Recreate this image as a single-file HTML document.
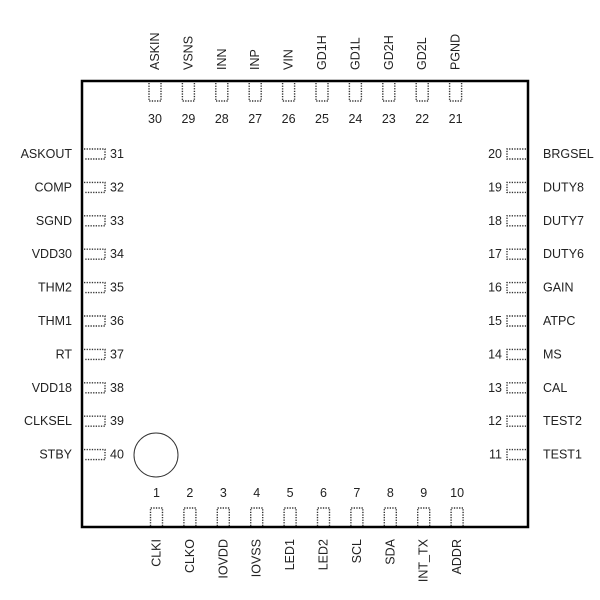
<!DOCTYPE html>
<html><head><meta charset="utf-8"><style>body{margin:0;background:#fff}svg{display:block}text{font-family:"Liberation Sans",sans-serif;font-size:12.5px;fill:#222}</style></head><body>
<svg width="600" height="600" xmlns="http://www.w3.org/2000/svg">
<rect x="82" y="81" width="446" height="446" fill="none" stroke="#000" stroke-width="2.5"/>
<circle cx="156" cy="455" r="22" fill="none" stroke="#333" stroke-width="1"/>
<g id="g" fill="none" stroke="#333" stroke-width="1.4" stroke-dasharray="1.3,1.3"></g>
<g id="t"></g>
</svg>
<script>
(function(){
var g=document.getElementById('g'),t=document.getElementById('t'),NS='http://www.w3.org/2000/svg';
function P(d){var p=document.createElementNS(NS,'path');p.setAttribute('d',d);g.appendChild(p);}
function T(x,y,s,a,r){var e=document.createElementNS(NS,'text');e.setAttribute('x',x);e.setAttribute('y',y);e.setAttribute('text-anchor',a);if(r)e.setAttribute('transform','rotate(-90 '+x+' '+y+')');e.textContent=s;t.appendChild(e);}
var topL=['ASKIN','VSNS','INN','INP','VIN','GD1H','GD1L','GD2H','GD2L','PGND'];
var bot=['CLKI','CLKO','IOVDD','IOVSS','LED1','LED2','SCL','SDA','INT_TX','ADDR'];
var lef=['ASKOUT','COMP','SGND','VDD30','THM2','THM1','RT','VDD18','CLKSEL','STBY'];
var rig=['BRGSEL','DUTY8','DUTY7','DUTY6','GAIN','ATPC','MS','CAL','TEST2','TEST1'];
var pitch=33.4;
for(var i=0;i<10;i++){
 var x=155+i*pitch;
 P('M'+(x-6)+' 83 V101 H'+(x+6)+' V83');
 T(x,123,String(30-i),'middle');
 T(x+4,70,topL[i],'start',1);
 var xb=156.5+i*pitch;
 P('M'+(xb-6)+' 526 V508 H'+(xb+6)+' V526');
 T(xb,497,String(i+1),'middle');
 T(xb+4,539,bot[i],'end',1);
 var y=154+i*pitch;
 P('M84 '+(y-5)+' H105 V'+(y+5)+' H84');
 T(110,y+4,String(31+i),'start');
 T(72,y+4,lef[i],'end');
 P('M526 '+(y-5)+' H507 V'+(y+5)+' H526');
 T(502,y+4,String(20-i),'end');
 T(543,y+4,rig[i],'start');
}
})();
</script>
</body></html>
